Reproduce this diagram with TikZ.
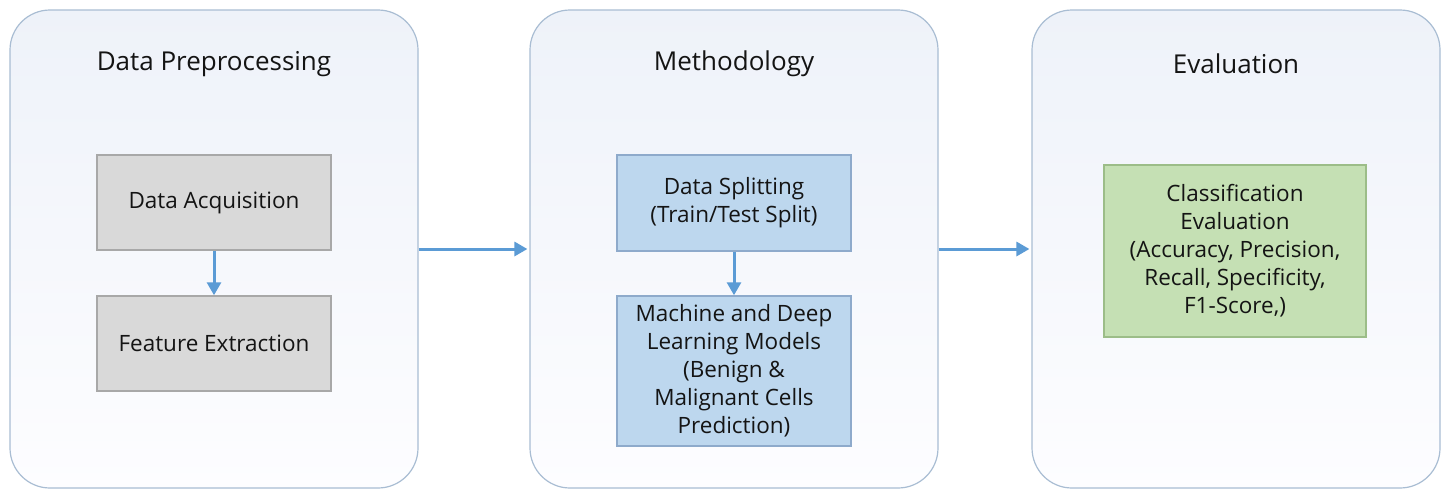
\documentclass[tikz,border=0pt]{standalone}
\usepackage{fontspec}
\setmainfont{Open Sans}
\usetikzlibrary{arrows.meta}
\definecolor{panelline}{HTML}{A9BDD3}
\definecolor{paneltop}{HTML}{EEF2F9}
\definecolor{panelbot}{HTML}{FDFDFF}
\definecolor{grayfill}{HTML}{D9D9D9}
\definecolor{grayline}{HTML}{A8A8A8}
\definecolor{bluefill}{HTML}{BDD7EE}
\definecolor{blueline}{HTML}{8EAACB}
\definecolor{greenfill}{HTML}{C5E0B4}
\definecolor{greenline}{HTML}{9CBD88}
\definecolor{arrowblue}{HTML}{5B9BD5}
\definecolor{ink}{HTML}{141414}
\tikzset{
  panel/.style={draw=panelline, line width=1.2pt, rounded corners=40pt,
    top color=paneltop, bottom color=panelbot,
    minimum width=408pt, minimum height=478pt, inner sep=0pt},
  ptitle/.style={text=ink, font=\fontsize{26}{30}\selectfont},
  inbox/.style={line width=1.5pt, inner sep=2pt, align=center, text=ink,
    font=\fontsize{22.5}{28}\selectfont},
  graybox/.style={inbox, draw=grayline, fill=grayfill},
  bluebox/.style={inbox, draw=blueline, fill=bluefill},
  greenbox/.style={inbox, draw=greenline, fill=greenfill},
  arr/.style={draw=arrowblue, line width=3pt,
    -{Triangle[length=13pt,width=14pt]}}
}
\begin{document}
\begin{tikzpicture}[x=1pt,y=-1pt]
\useasboundingbox (0,0) rectangle (1448,491);
\fill[white] (0,0) rectangle (1448,491);
% panels
\node[panel] (p1) at (214,249) {};
\node[panel] (p2) at (734,249) {};
\node[panel] (p3) at (1236,249) {};
% titles
\node[ptitle] (t1) at (214,64) {Data Preprocessing};
\node[ptitle] (t2) at (734,64) {Methodology};
\node[ptitle] (t3) at (1236,64) {Evaluation};
% inner boxes
\node[graybox, minimum width=234pt, minimum height=95pt] (acq) at (214,202.5) {Data Acquisition};
\node[graybox, minimum width=234pt, minimum height=95pt] (fe) at (214,343.5) {Feature Extraction};
\node[bluebox, minimum width=234pt, minimum height=96pt] (split) at (734,203) {Data Splitting\\(Train/Test Split)};
\node[bluebox, minimum width=234pt, minimum height=150pt] (ml) at (734,371) {Machine and Deep\\Learning Models\\(Benign \&\\Malignant Cells\\Prediction)};
\node[greenbox, minimum width=262pt, minimum height=172pt] (cls) at (1235,251) {Classification\\Evaluation\\(Accuracy, Precision,\\Recall, Specificity,\\F1-Score,)};
% arrows
\draw[arr] (acq) -- (fe);
\draw[arr] (split) -- (ml);
\draw[arr] (p1.east) -- ([xshift=-2pt]p2.west);
\draw[arr] (p2.east) -- ([xshift=-2pt]p3.west);
\end{tikzpicture}
\end{document}
